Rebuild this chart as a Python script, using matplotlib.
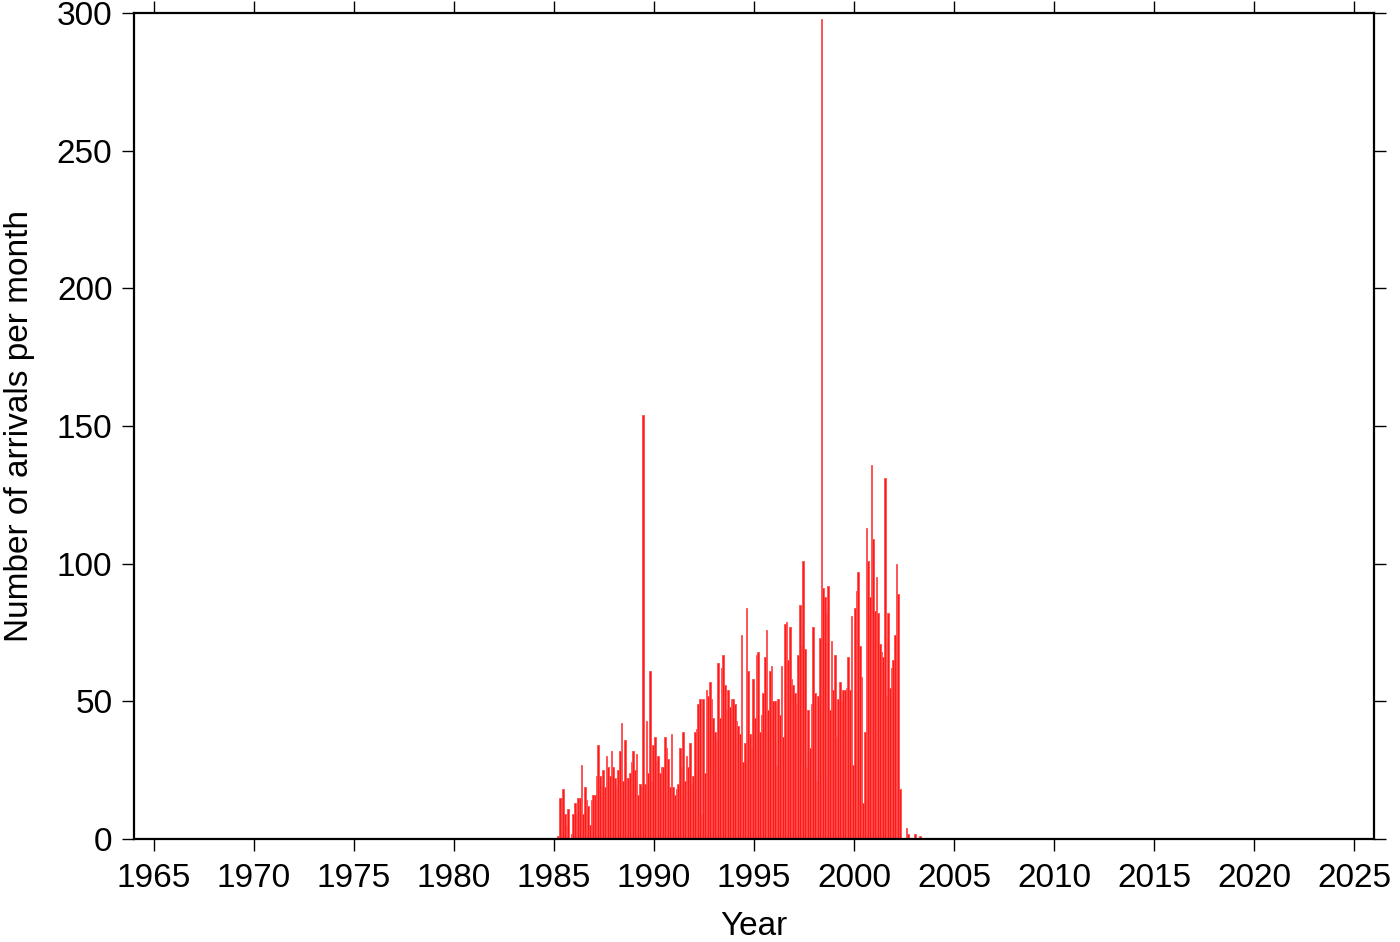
import matplotlib.pyplot as plt
import numpy as np

plt.rcParams['font.family'] = ['Liberation Sans', 'DejaVu Sans']

# Monthly counts, starting January 1985
start_year = 1985
counts = [
    0, 0, 1, 15, 15, 18, 9, 5, 11, 0, 2, 9, 13, 9, 15, 15, 27, 9, 19, 14, 12, 5, 14, 16, 16, 23,
    34, 23, 19, 25, 19, 30, 26, 23, 32, 26, 22, 19, 25, 32, 42, 21, 36, 22, 22, 24, 28, 32, 25, 31, 16, 20, 19, 154,
    20, 43, 24, 61, 21, 34, 37, 28, 30, 24, 26,
    26, 37, 33, 29, 19, 38, 19, 16, 18, 20, 33, 26, 39, 21, 30, 26, 35, 20, 23, 39, 40, 49, 51, 9, 51, 24, 54, 52, 57, 51, 44, 39, 36,
    64, 44, 62, 67, 56, 47, 54, 48, 51, 51, 49, 43, 41, 38, 74, 28, 35, 84, 61, 38, 33, 58, 44, 67, 68, 39, 45, 53, 66, 76, 47, 61, 63, 50,
    50,
    27, 51, 45, 63, 37, 78, 79, 65, 77, 58, 56, 53, 49, 67, 85, 70, 101, 69, 26, 47, 33, 49, 77, 53, 21, 52, 73, 298, 91, 88, 82, 92, 47,
    72, 54, 67, 37, 51, 57, 50, 54, 54, 55, 66, 54, 81, 27, 84, 90, 97, 70, 59, 13, 39, 113, 101, 88, 136, 109, 83, 95, 82, 71, 68, 66, 131, 52,
    82, 55, 62, 65, 74, 100, 89, 18,
    0, 0, 0, 4, 2, 0, 0, 0, 2, 0, 0, 1,
]
x_ticks = list(range(1965, 2030, 5))
y_ticks = [0, 50, 100, 150, 200, 250, 300]

months = start_year + np.arange(len(counts)) / 12.0

fig = plt.figure(figsize=(14, 9.42), dpi=100)
ax = fig.add_axes([0.0957, 0.1093, 0.8857, 0.8769])

ax.bar(months, counts, width=1 / 12.0, align='edge', color='#ff1a1a',
       edgecolor='#ff4d4d', linewidth=0.6)

ax.set_xlim(1964, 2026)
ax.set_ylim(0, 300)
ax.set_xticks(x_ticks)
ax.set_yticks(y_ticks)

for spine in ax.spines.values():
    spine.set_linewidth(1.6)

ax.tick_params(axis='both', which='major', direction='out', length=8.5, width=1.0,
               labelsize=24, top=True, right=True, labeltop=False, labelright=False)
ax.tick_params(axis='x', pad=9)
ax.tick_params(axis='y', pad=7)

ax.set_xlabel('Year', fontsize=24, labelpad=12)
ax.set_ylabel('Number of arrivals per month', fontsize=24, labelpad=16)

plt.savefig('out.png', dpi=100)
